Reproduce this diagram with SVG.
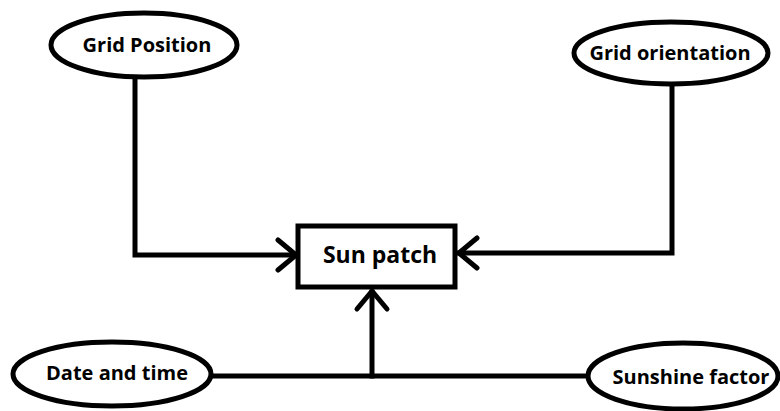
<svg xmlns="http://www.w3.org/2000/svg" width="780" height="411" viewBox="0 0 780 411">
<style>
.n{fill:#fff;stroke:#000;stroke-width:5}
.t{font-family:"Open Sans","Noto Sans",sans-serif;font-weight:bold;font-size:20px;fill:#000;text-anchor:middle;dominant-baseline:central}
.big{font-size:23px}
.c{fill:none;stroke:#000;stroke-width:5;stroke-linecap:square}
.h{fill:none;stroke:#000;stroke-width:5;stroke-linecap:round;stroke-linejoin:round}
</style>
<rect width="780" height="411" fill="#fff"/>
<g id="connectors">
<path class="c" d="M135 78 V255 H295"/>
<path class="h" d="M278 240 L296 255 L278 270"/>
<path class="c" d="M672 86 V253 H459"/>
<path class="h" d="M477 238 L459 253 L477 268"/>
<path class="c" d="M212 376 H590"/>
<path class="c" d="M372 376 V292"/>
<path class="h" d="M357 309 L372 291 L387 309"/>
</g>
<g id="grid-position">
<ellipse class="n" cx="144" cy="45" rx="93" ry="32"/>
<text class="t" x="147" y="44">Grid Position</text>
</g>
<g id="grid-orientation">
<ellipse class="n" cx="671" cy="53" rx="97" ry="31"/>
<text class="t" x="670" y="52">Grid orientation</text>
</g>
<g id="sun-patch">
<rect class="n" x="298" y="226" width="157" height="61"/>
<text class="t big" x="380" y="254">Sun patch</text>
</g>
<g id="date-and-time">
<ellipse class="n" cx="112" cy="374" rx="99" ry="32"/>
<text class="t" x="117" y="372">Date and time</text>
</g>
<g id="sunshine-factor">
<ellipse class="n" cx="683" cy="376" rx="95" ry="33"/>
<text class="t" x="691" y="376">Sunshine factor</text>
</g>
</svg>
